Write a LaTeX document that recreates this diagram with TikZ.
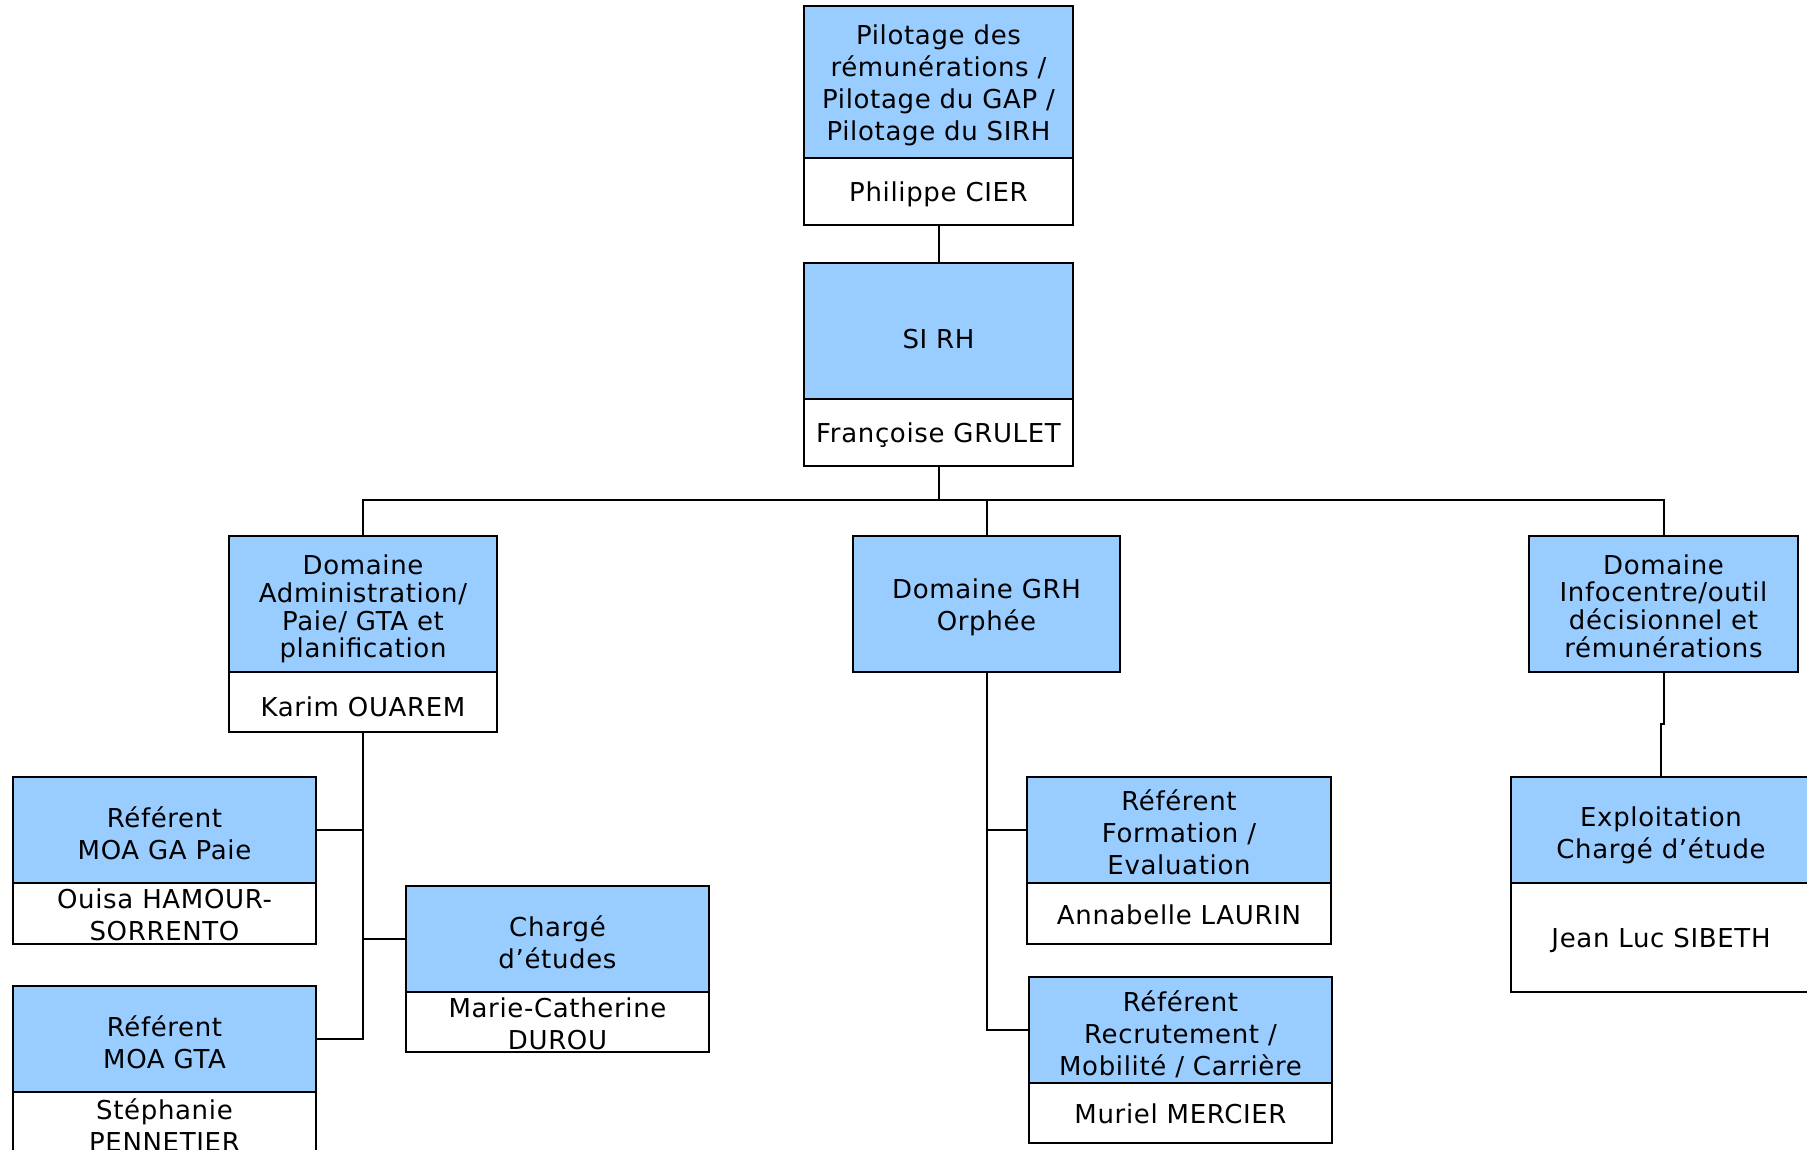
\documentclass[tikz,border=0pt]{standalone}
\usepackage{fontspec}
\setmainfont[LetterSpace=2.5]{DejaVu Sans}
\definecolor{boxblue}{RGB}{153,204,255}
\begin{document}
\begin{tikzpicture}[x=1pt,y=-1pt,line width=2pt,
  bbox/.style={draw=black,fill=boxblue,inner sep=0pt,outer sep=0pt},
  wbox/.style={draw=black,fill=white,inner sep=0pt,outer sep=0pt},
  txt/.style={font=\fontsize{26}{32}\selectfont,align=center,inner sep=0pt},
  txttight/.style={font=\fontsize{26}{27.7}\selectfont,align=center,inner sep=0pt},
  conn/.style={draw=black,line width=2pt}]
\useasboundingbox (0,0) rectangle (1807,1149);
\clip (0,0) rectangle (1807,1149);
\fill[white] (0,0) rectangle (1807,1149);

% top box
\node[bbox,minimum width=269pt,minimum height=152pt] (pil) at (938.5,82) {};
\node[wbox,minimum width=269pt,minimum height=67pt] (pilw) at (938.5,191.5) {};
\node[txt] (pilt) at (938.5,85.5) {Pilotage des\\rémunérations /\\Pilotage du GAP /\\Pilotage du SIRH};
\node[txt] (pilwt) at (938.5,194) {Philippe CIER};

% SI RH
\node[bbox,minimum width=269pt,minimum height=136pt] (sirh) at (938.5,331) {};
\node[wbox,minimum width=269pt,minimum height=67pt] (sirhw) at (938.5,432.5) {};
\node[txt] (sirht) at (938.5,339) {SI RH};
\node[txt] (sirhwt) at (938.5,435) {Françoise GRULET};

% Domaine Administration
\node[bbox,minimum width=268pt,minimum height=136pt] (adm) at (363,604) {};
\node[wbox,minimum width=268pt,minimum height=60pt] (admw) at (363,702) {};
\node[txttight] (admt) at (363,609) {Domaine\\Administration/\\Paie/ GTA et\\planification};
\node[txt] (admwt) at (363,707) {Karim OUAREM};

% Domaine GRH
\node[bbox,minimum width=267pt,minimum height=136pt] (grh) at (986.5,604) {};
\node[txt] (grht) at (986.5,607) {Domaine GRH\\Orphée};

% Domaine Infocentre
\node[bbox,minimum width=269pt,minimum height=136pt] (info) at (1663.5,604) {};
\node[txttight] (infot) at (1663.5,606) {Domaine\\Infocentre/outil\\décisionnel et\\rémunérations};

% Referent MOA GA Paie
\node[bbox,minimum width=303pt,minimum height=106pt] (paie) at (164.5,830) {};
\node[wbox,minimum width=303pt,minimum height=61pt] (paiew) at (164.5,913.5) {};
\node[txt] (paiet) at (164.5,833) {Référent\\MOA GA Paie};
\node[txt] (paiewt) at (164.5,915) {Ouisa HAMOUR-\\SORRENTO};

% Referent MOA GTA
\node[bbox,minimum width=303pt,minimum height=106pt] (gta) at (164.5,1039) {};
\node[wbox,minimum width=303pt,minimum height=61pt] (gtaw) at (164.5,1122.5) {};
\node[txt] (gtat) at (164.5,1042) {Référent\\MOA GTA};
\node[txt] (gtawt) at (164.5,1125) {Stéphanie\\PENNETIER};

% Charge d'etudes
\node[bbox,minimum width=303pt,minimum height=106pt] (chg) at (557.5,939) {};
\node[wbox,minimum width=303pt,minimum height=60pt] (chgw) at (557.5,1022) {};
\node[txt] (chgt) at (557.5,942) {Chargé\\d’études};
\node[txt] (chgwt) at (557.5,1024) {Marie-Catherine\\DUROU};

% Referent Formation
\node[bbox,minimum width=304pt,minimum height=106pt] (form) at (1179,830) {};
\node[wbox,minimum width=304pt,minimum height=61pt] (formw) at (1179,913.5) {};
\node[txt] (formt) at (1179,832) {Référent\\Formation /\\Evaluation};
\node[txt] (formwt) at (1179,915) {Annabelle LAURIN};

% Referent Recrutement
\node[bbox,minimum width=303pt,minimum height=106pt] (recr) at (1180.5,1030) {};
\node[wbox,minimum width=303pt,minimum height=60pt] (recrw) at (1180.5,1113) {};
\node[txt] (recrt) at (1180.5,1034) {Référent\\Recrutement /\\Mobilité / Carrière};
\node[txt] (recrwt) at (1180.5,1114) {Muriel MERCIER};

% Exploitation
\node[bbox,minimum width=300pt,minimum height=106pt] (expl) at (1661,830) {};
\node[wbox,minimum width=300pt,minimum height=109pt] (explw) at (1661,937.5) {};
\node[txt] (explt) at (1661,835) {Exploitation\\Chargé d’étude};
\node[txt] (explwt) at (1661,940) {Jean Luc SIBETH};

% connectors
\coordinate (bus) at (0,500);
\draw[conn] (pilw.south) -- (sirh.north);
\draw[conn] (sirhw.south) -- (sirhw.south |- bus);
\draw[conn] (adm.north) -- (adm.north |- bus) -- (info.north |- bus) -- (info.north);
\draw[conn] (grh.north) -- (grh.north |- bus);

\draw[conn] (admw.south) |- (gta.east);
\draw[conn] (admw.south |- paie.east) -- (paie.east);
\draw[conn] (admw.south |- chg.west) -- (chg.west);

\draw[conn] (grh.south) |- (recr.west);
\draw[conn] (grh.south |- form.west) -- (form.west);

\draw[conn] (info.south) -- ++(0,52) -| (expl.north);
\end{tikzpicture}
\end{document}
